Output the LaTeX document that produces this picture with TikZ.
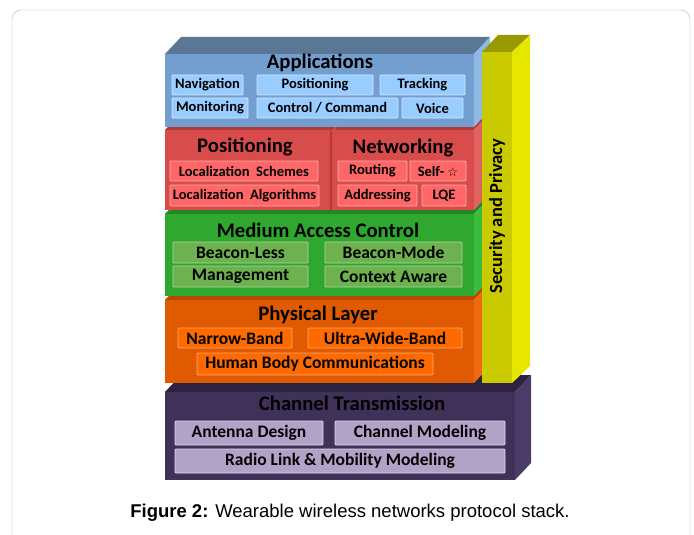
\documentclass[tikz,border=0pt]{standalone}
\usepackage{fontspec}
\setmainfont{Carlito}
\newfontfamily\capfont{Liberation Sans}
\newfontfamily\symfont{DejaVu Sans}
\usetikzlibrary{positioning}

\definecolor{appfront}{HTML}{729FCF}
\definecolor{apptop}{HTML}{5A7896}
\definecolor{appside}{HTML}{8DB9E2}
\definecolor{appsub}{HTML}{99CCFF}
\definecolor{posfront}{HTML}{D94C4C}
\definecolor{postop}{HTML}{B23A3A}
\definecolor{posside}{HTML}{E26262}
\definecolor{possub}{HTML}{FF6666}
\definecolor{macfront}{HTML}{30A830}
\definecolor{mactop}{HTML}{228822}
\definecolor{macside}{HTML}{3CBC3C}
\definecolor{macsub}{HTML}{6DB24E}
\definecolor{phyfront}{HTML}{DF5A00}
\definecolor{phytop}{HTML}{B84A00}
\definecolor{physide}{HTML}{EE6A10}
\definecolor{physub}{HTML}{FF6A00}
\definecolor{chfront}{HTML}{3F3158}
\definecolor{chtop}{HTML}{2C2340}
\definecolor{chside}{HTML}{4B3B68}
\definecolor{chsub}{HTML}{B3A2C7}
\definecolor{secfront}{HTML}{CACA00}
\definecolor{sectop}{HTML}{999900}
\definecolor{secside}{HTML}{E6E600}
\definecolor{framegray}{HTML}{B0B0B0}

\begin{document}
\begin{tikzpicture}[
          x=1pt, y=-1pt,
          title/.style={font=\bfseries\fontsize{20.7}{22}\selectfont, inner sep=0pt},
          sub/.style={rectangle, rounded corners=1pt, line width=0.8pt, inner sep=0pt,
                      font=\bfseries\fontsize{14.5}{16}\selectfont, minimum height=20pt},
          bigsub/.style={sub, font=\bfseries\fontsize{17.5}{19}\selectfont},
          appbox/.style={sub, fill=appsub, draw=appsub!45!white},
          posbox/.style={sub, fill=possub, draw=possub!55!white},
          macbox/.style={bigsub, fill=macsub, draw=macsub!55!white, minimum height=21pt},
          phybox/.style={bigsub, fill=physub, draw=physub!60!white},
          chbox/.style={bigsub, fill=chsub, draw=chsub!40!white, minimum height=24pt}
        ]
        \useasboundingbox (0,0) rectangle (694,535);
        \clip (0,0) rectangle (694,535);
        \draw[framegray, rounded corners=9pt] (12,10) rectangle (690,570);

        % channel transmission block
        \fill[chtop] (165,392) -- (181,375) -- (531,375) -- (515,392) -- cycle;
        \fill[chside] (515,392) -- (531,375) -- (531,463) -- (515,480) -- cycle;
        \fill[chfront] (165,392) rectangle (515,480);
        % physical layer
        \fill[phytop] (165,300) -- (181,283) -- (490,283) -- (474,300) -- cycle;
        \fill[physide] (474,300) -- (490,283) -- (490,366) -- (474,383) -- cycle;
        \fill[phyfront] (165,300) rectangle (474,383);
        % medium access control
        \fill[mactop] (165,214) -- (181,197) -- (490,197) -- (474,214) -- cycle;
        \fill[macside] (474,214) -- (490,197) -- (490,279) -- (474,296) -- cycle;
        \fill[macfront] (165,214) rectangle (474,296);
        % positioning / networking
        \fill[postop] (165,130) -- (181,113) -- (490,113) -- (474,130) -- cycle;
        \fill[posside] (474,130) -- (490,113) -- (490,193) -- (474,210) -- cycle;
        \fill[posfront] (165,130) rectangle (474,210);
        \draw[postop, line width=1.2pt] (331,131) -- (331,210);
        \draw[posside, line width=0.8pt] (333,131) -- (336,127);
        % applications
        \fill[apptop] (165,54) -- (181,37) -- (490,37) -- (474,54) -- cycle;
        \fill[appside] (474,54) -- (490,37) -- (490,110) -- (474,127) -- cycle;
        \fill[appfront] (165,54) rectangle (474,127);
        % security pillar
        \fill[sectop] (482,52) -- (498,35) -- (530,35) -- (512,52) -- cycle;
        \fill[secside] (512,52) -- (530,35) -- (530,366) -- (512,383) -- cycle;
        \fill[secfront] (482,52) rectangle (512,383);

        \node[title] (apps) at (320,63) {Applications};
        \node[appbox, minimum width=71pt] (nav) at (207.5,85) {Navigation};
        \node[appbox, minimum width=116pt] (posapp) at (315,85) {Positioning};
        \node[appbox, minimum width=85pt] (track) at (422.5,85) {Tracking};
        \node[appbox, minimum width=76pt] (monit) at (210,108) {Monitoring};
        \node[appbox, minimum width=141pt] (ctrl) at (327.5,108) {Control / Command};
        \node[appbox, minimum width=61pt] (voice) at (432.5,108) {Voice};

        \node[title] (posi) at (245,147) {Positioning};
        \node[title] (netw) at (403,148) {Networking};
        \node[posbox, minimum width=148pt] (locs) at (244,171) {Localization~~Schemes};
        \node[posbox, minimum width=149pt, minimum height=21pt] (loca) at (244.5,195.5) {Localization~~Algorithms};
        \node[posbox, minimum width=69pt] (rout) at (372.5,171) {Routing};
        \node[posbox, minimum width=56pt] (self) at (438,171) {Self-~{\symfont\fontsize{12}{14}\selectfont ☆}};
        \node[posbox, minimum width=79pt, minimum height=21pt] (addr) at (377.5,195.5) {Addressing};
        \node[posbox, minimum width=44pt, minimum height=21pt] (lqe) at (444,195.5) {LQE};

        \node[title] (mac) at (318,230) {Medium Access Control};
        \node[macbox, minimum width=135pt] (bless) at (240.5,252.5) {Beacon-Less};
        \node[macbox, minimum width=137pt] (bmode) at (393.5,252.5) {Beacon-Mode};
        \node[macbox, minimum width=135pt] (mgmt) at (240.5,276.5) {Management};
        \node[macbox, minimum width=137pt] (ctx) at (393.5,276.5) {Context Aware};

        \node[title] (phy) at (318,315) {Physical Layer};
        \node[phybox, minimum width=114pt] (narrow) at (235,338) {Narrow-Band};
        \node[phybox, minimum width=154pt] (uwb) at (385,338) {Ultra-Wide-Band};
        \node[phybox, minimum width=236pt, minimum height=22pt] (hbc) at (315,364) {Human Body Communications};

        \node[title] (chan) at (352,403) {Channel Transmission};
        \node[chbox, minimum width=148pt] (ant) at (249,433) {Antenna Design};
        \node[chbox, minimum width=170pt] (chmod) at (420,433) {Channel Modeling};
        \node[chbox, minimum width=330pt] (radio) at (340,461) {Radio Link \& Mobility Modeling};

        \node[title, font=\bfseries\fontsize{18.5}{20}\selectfont, rotate=90] (sec) at (497,216) {Security and Privacy};

        \node[font=\capfont\fontsize{18.5}{21}\selectfont] (cap) at (350,513) {\textbf{Figure 2:} Wearable wireless networks protocol stack.};
      \end{tikzpicture}
\end{document}
